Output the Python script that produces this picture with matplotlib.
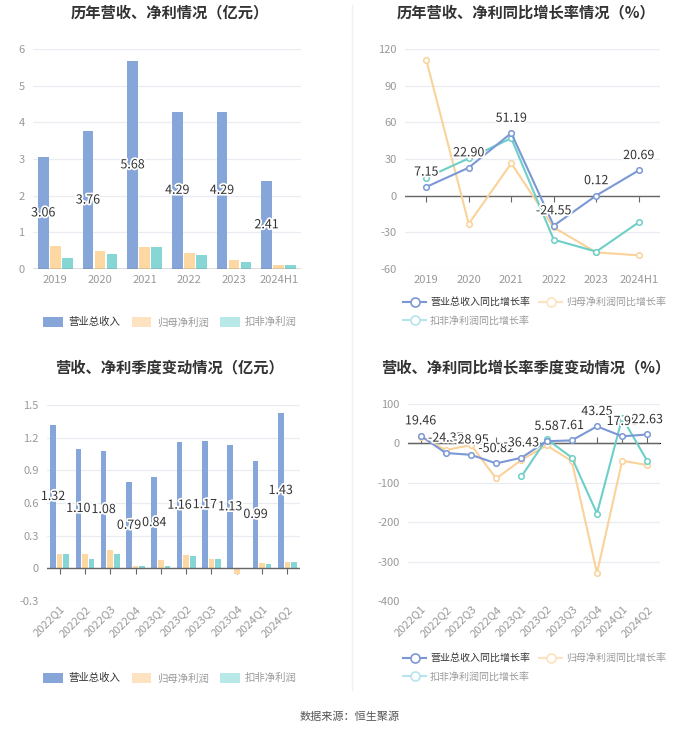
import numpy as np
import matplotlib
matplotlib.use("Agg")
import matplotlib.pyplot as plt
import matplotlib.patheffects as pe
from matplotlib.patches import Patch
from matplotlib.lines import Line2D

plt.rcParams['font.family'] = ['Noto Sans CJK SC', 'DejaVu Sans']
plt.rcParams['axes.unicode_minus'] = False

# annual data
years = ['2019', '2020', '2021', '2022', '2023', '2024H1']
rev_y = [3.06, 3.76, 5.68, 4.29, 4.29, 2.41]
np_y = [0.62, 0.48, 0.61, 0.45, 0.24, 0.10]
dnp_y = [0.31, 0.40, 0.59, 0.37, 0.20, 0.10]
rev_g_y = [7.15, 22.90, 51.19, -24.55, 0.12, 20.69]
np_g_y = [111.0, -23.0, 26.5, -26.0, -46.4, -48.8]
dnp_g_y = [14.7, 30.5, 47.0, -36.0, -45.8, -21.8]

# quarterly data
quarters = ['2022Q1', '2022Q2', '2022Q3', '2022Q4', '2023Q1',
            '2023Q2', '2023Q3', '2023Q4', '2024Q1', '2024Q2']
rev_q = [1.32, 1.10, 1.08, 0.79, 0.84, 1.16, 1.17, 1.13, 0.99, 1.43]
np_q = [0.13, 0.13, 0.17, 0.02, 0.08, 0.12, 0.09, -0.05, 0.05, 0.06]
dnp_q = [0.13, 0.09, 0.13, 0.02, 0.02, 0.11, 0.09, 0.005, 0.04, 0.06]
rev_g_q = [19.46, -24.37, -28.95, -50.82, -36.43, 5.58, 7.61, 43.25, 17.98, 22.63]
np_g_q = [17.0, -17.0, -4.0, -89.0, -42.0, -5.0, -45.0, -329.0, -44.0, -55.0]
dnp_g_q = [np.nan, np.nan, np.nan, np.nan, -84.0, 11.0, -36.0, -178.0, 65.0, -45.0]

C_BLUE = '#86a6da'
C_ORANGE = '#fdd8a2'
C_TEAL = '#86d6d6'
L_BLUE = '#7b98d6'
L_ORANGE = '#fad29a'
L_TEAL = '#6dcfc8'
TXT = '#333333'
GRAY = '#999999'
GRID = '#e9ecf2'

W, H = 700, 734
fig = plt.figure(figsize=(7, 7.34), dpi=100)


def px_axes(x0, x1, ytop, ybot):
    return fig.add_axes([x0 / W, 1 - ybot / H, (x1 - x0) / W, (ybot - ytop) / H])


def style(ax, ylim, yticks):
    ax.set_ylim(*ylim)
    ax.set_yticks(yticks)
    ax.set_yticklabels(['{:g}'.format(v) for v in yticks])
    for s in ax.spines.values():
        s.set_visible(False)
    ax.grid(axis='y', color=GRID, linewidth=0.9)
    ax.set_axisbelow(True)
    ax.tick_params(axis='y', length=0, labelsize=8, labelcolor=GRAY, pad=6)
    ax.tick_params(axis='x', length=0, labelsize=8, labelcolor=GRAY)
    ax.axhline(0, color='#666666', linewidth=1, zorder=3)


def zero_ticks(ax, n, ylim):
    loc = (0 - ylim[0]) / (ylim[1] - ylim[0])
    sec = ax.secondary_xaxis(loc)
    sec.set_xticks(np.arange(n))
    sec.set_xticklabels([''] * n)
    sec.tick_params(axis='x', direction='out', length=4, color='#666666')
    sec.spines['bottom'].set_visible(False)


outline = [pe.withStroke(linewidth=2.5, foreground='white')]


def bar_chart(ax, cats, rev, net, ded, ylim, yticks, rot, w, off):
    x = np.arange(len(cats))
    b = ax.bar(x - off, rev, w, color=C_BLUE, zorder=2)
    ax.bar(x, net, w, color=C_ORANGE, zorder=2)
    ax.bar(x + off, ded, w, color=C_TEAL, zorder=2)
    style(ax, ylim, yticks)
    ax.set_xlim(-0.5, len(cats) - 0.5)
    ax.set_xticks(x)
    if rot:
        ax.set_xticklabels(cats, rotation=45, ha='right', rotation_mode='anchor')
    else:
        ax.set_xticklabels(cats)
    ax.bar_label(b, labels=['%.2f' % v for v in rev], label_type='center',
                 fontsize=9, color=TXT, path_effects=outline, zorder=4)
    return x


def line_chart(ax, cats, rev, net, ded, ylim, yticks, rot):
    x = np.arange(len(cats))
    mk = dict(marker='o', markersize=4, markerfacecolor='white', markeredgewidth=1.1, linewidth=1.5)
    ax.plot(x, net, color=L_ORANGE, zorder=4, **mk)
    ax.plot(x, ded, color=L_TEAL, zorder=5, **mk)
    ax.plot(x, rev, color=L_BLUE, zorder=6, **mk)
    style(ax, ylim, yticks)
    ax.set_xlim(-0.5, len(cats) - 0.5)
    ax.set_xticks(x)
    if rot:
        ax.set_xticklabels(cats, rotation=45, ha='right', rotation_mode='anchor')
    else:
        ax.set_xticklabels(cats)
    zero_ticks(ax, len(cats), ylim)
    for xi, v in zip(x, rev):
        ax.annotate('%.2f' % v, (xi, v), xytext=(0, 6), textcoords='offset points',
                    ha='center', va='bottom', fontsize=9, color=TXT,
                    path_effects=outline, zorder=7)


def bar_legend(cx, cy):
    hs = [Patch(facecolor=C_BLUE), Patch(facecolor='#fde3c0'), Patch(facecolor='#b8e8e8')]
    lg = fig.legend(hs, ['营业总收入', '归母净利润', '扣非净利润'], loc='center',
                    bbox_to_anchor=(cx / W, 1 - cy / H), ncol=3, frameon=False,
                    fontsize=7.5, handlelength=1.9, handleheight=1.2, columnspacing=1.1,
                    handletextpad=0.5)
    for t, c in zip(lg.get_texts(), [TXT, GRAY, GRAY]):
        t.set_color(c)


def line_legend(x0, cy):
    mk = dict(marker='o', markersize=6.5, markerfacecolor='white', markeredgewidth=1.2, linewidth=1.5)
    hs = [Line2D([], [], color=L_BLUE, **mk),
          Line2D([], [], color='#b6e4ec', **mk),
          Line2D([], [], color='#fde3c0', **mk)]
    lg = fig.legend(hs, ['营业总收入同比增长率', '扣非净利润同比增长率', '归母净利润同比增长率'],
                    loc='upper left', bbox_to_anchor=(x0 / W, 1 - cy / H), ncol=2,
                    frameon=False, fontsize=7.2, handlelength=2.3, columnspacing=0.9,
                    handletextpad=0.4, labelspacing=0.85, borderaxespad=0, borderpad=0)
    for t, c in zip(lg.get_texts(), [TXT, GRAY, GRAY]):
        t.set_color(c)


# top-left
ax1 = px_axes(33, 301, 49, 269)
bar_chart(ax1, years, rev_y, np_y, dnp_y, (0, 6), [0, 1, 2, 3, 4, 5, 6], False, 0.24, 0.27)
ax1.tick_params(axis='x', pad=4)
fig.text(170 / W, 1 - 12 / H, '历年营收、净利情况（亿元）', ha='center', va='center',
         fontsize=11, fontweight='bold', color=TXT)
bar_legend(170, 322)

# top-right
ax2 = px_axes(405, 660, 49, 269)
line_chart(ax2, years, rev_g_y, np_g_y, dnp_g_y, (-60, 120), [-60, -30, 0, 30, 60, 90, 120], False)
ax2.tick_params(axis='x', pad=4)
fig.text(526 / W, 1 - 12 / H, '历年营收、净利同比增长率情况（%）', ha='center', va='center',
         fontsize=11, fontweight='bold', color=TXT)
line_legend(403, 297)

# bottom-left
ax3 = px_axes(47, 300, 405, 601)
bar_chart(ax3, quarters, rev_q, np_q, dnp_q, (-0.3, 1.5),
          [-0.3, 0, 0.3, 0.6, 0.9, 1.2, 1.5], True, 0.22, 0.26)
zero_ticks(ax3, len(quarters), (-0.3, 1.5))
ax3.tick_params(axis='x', pad=2)
fig.text(170 / W, 1 - 367 / H, '营收、净利季度变动情况（亿元）', ha='center', va='center',
         fontsize=11, fontweight='bold', color=TXT)
bar_legend(170, 678)

# bottom-right
ax4 = px_axes(408, 660, 404, 601)
line_chart(ax4, quarters, rev_g_q, np_g_q, dnp_g_q, (-400, 100),
           [-400, -300, -200, -100, 0, 100], True)
ax4.tick_params(axis='x', pad=2)
fig.text(526 / W, 1 - 367 / H, '营收、净利同比增长率季度变动情况（%）', ha='center', va='center',
         fontsize=11, fontweight='bold', color=TXT)
line_legend(403, 653)

# divider and source
fig.add_artist(Line2D([352 / W, 352 / W], [1 - 5 / H, 1 - 690 / H], color='#f0f0f0', linewidth=1))
fig.text(350 / W, 1 - 717 / H, '数据来源：恒生聚源', ha='center', va='center',
         fontsize=8, color='#555555')

fig.savefig('out.png', dpi=100, facecolor='white')
